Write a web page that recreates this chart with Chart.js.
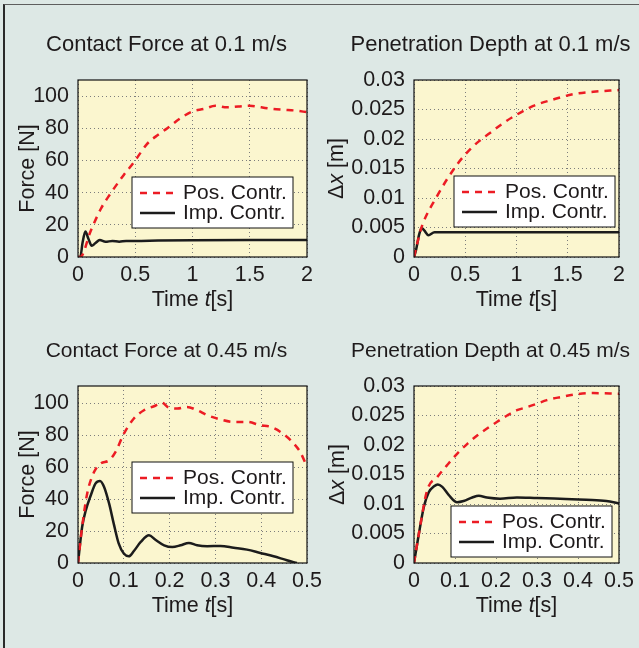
<!DOCTYPE html>
<html>
<head>
<meta charset="utf-8">
<script src="https://cdn.jsdelivr.net/npm/chart.js@4.4.1/dist/chart.umd.min.js"></script>
<style>
  html, body { margin: 0; padding: 0; }
  body { width: 639px; height: 648px; background: #dde8e5; position: relative; overflow: hidden; }
  #frame { position: absolute; left: 3px; top: 4px; right: 0; bottom: 0;
           border-left: 2px solid #2a2a2a; border-top: 1px solid #5e5e5e; }
  canvas { position: absolute; left: 0; top: 0; }
</style>
</head>
<body>
<div id="frame"></div>
<canvas id="c1" width="639" height="648"></canvas>
<canvas id="c2" width="639" height="648"></canvas>
<canvas id="c3" width="639" height="648"></canvas>
<canvas id="c4" width="639" height="648"></canvas>
<script>
// legend labels
var seriesNames = ["Pos. Contr.", "Imp. Contr."];

// contact force at 0.1 m/s
var tForce1Pos = [0, 0.02, 0.11, 0.2, 0.28, 0.4, 0.49, 0.6, 0.7, 0.78, 0.89, 1.0, 1.1, 1.2, 1.3, 1.4, 1.5, 1.6, 1.7, 1.8, 1.9, 2.0];
var force1Pos  = [0, 0, 16, 30, 39, 51, 59, 70, 76, 80, 86, 90.5, 92, 94, 93, 93.5, 94, 93, 92, 91.5, 91, 90];
var tForce1Imp = [0, 0.02, 0.04, 0.065, 0.09, 0.12, 0.15, 0.19, 0.24, 0.3, 0.36, 0.42, 0.5, 0.7, 1.0, 1.5, 2.0];
var force1Imp  = [0, 0, 9, 15.8, 11.5, 7, 8.5, 10.5, 9.4, 10, 9.5, 10, 10, 10.2, 10.4, 10.5, 10.5];

// penetration depth at 0.1 m/s
var tDepth1Pos = [0, 0.03, 0.075, 0.221, 0.384, 0.481, 0.611, 0.741, 0.871, 1.0, 1.164, 1.359, 1.554, 1.75, 2.0];
var depth1Pos  = [0, 0.0022, 0.0051, 0.0102, 0.0148, 0.017, 0.0193, 0.021, 0.0227, 0.0241, 0.0256, 0.0267, 0.0276, 0.028, 0.0283];
var tDepth1Imp = [0, 0.02, 0.05, 0.075, 0.1, 0.14, 0.2, 0.3, 0.5, 1.0, 1.5, 2.0];
var depth1Imp  = [0, 0.0012, 0.0038, 0.0049, 0.0045, 0.0037, 0.0042, 0.0042, 0.0042, 0.0042, 0.0042, 0.0042];

// contact force at 0.45 m/s
var tForce2Pos = [0, 0.009, 0.02, 0.035, 0.049, 0.068, 0.082, 0.1, 0.122, 0.144, 0.166, 0.184, 0.198, 0.217, 0.238, 0.26, 0.282, 0.311, 0.34, 0.369, 0.398, 0.42, 0.442, 0.464, 0.485, 0.5];
var force2Pos  = [0, 22.6, 43.5, 57, 62.3, 64.4, 69.7, 81, 90.6, 95.8, 98.3, 100.4, 97.5, 96.9, 97.9, 95.8, 92.7, 90, 88.5, 88.5, 86.4, 85.4, 82.2, 77, 69.7, 60.3];
var tForce2Imp = [0, 0.009, 0.017, 0.028, 0.038, 0.048, 0.057, 0.068, 0.078, 0.089, 0.1, 0.111, 0.122, 0.137, 0.155, 0.169, 0.188, 0.206, 0.224, 0.242, 0.26, 0.282, 0.311, 0.34, 0.369, 0.398, 0.427, 0.456, 0.478];
var force2Imp  = [0, 22.6, 33, 42.5, 49.8, 51.5, 47.7, 37.2, 24.7, 12.1, 5.9, 4.2, 7.5, 13.2, 17.4, 14.6, 11.1, 10, 11.1, 12.6, 11.1, 10.5, 10.7, 9.6, 8.4, 6.3, 4.2, 1.7, 0];

// penetration depth at 0.45 m/s
var tDepth2Pos = [0, 0.012, 0.032, 0.057, 0.081, 0.105, 0.13, 0.154, 0.178, 0.202, 0.227, 0.251, 0.275, 0.3, 0.324, 0.356, 0.396, 0.437, 0.5];
var depth2Pos  = [0, 0.005, 0.0123, 0.0146, 0.0166, 0.0185, 0.0202, 0.0216, 0.0228, 0.0239, 0.025, 0.0259, 0.0264, 0.027, 0.0276, 0.0281, 0.0286, 0.0288, 0.0287];
var tDepth2Imp = [0, 0.012, 0.024, 0.036, 0.049, 0.058, 0.069, 0.085, 0.105, 0.121, 0.142, 0.158, 0.178, 0.21, 0.251, 0.3, 0.356, 0.42, 0.469, 0.5];
var depth2Imp  = [0, 0.005, 0.0095, 0.012, 0.013, 0.0133, 0.0129, 0.0115, 0.0103, 0.0105, 0.0111, 0.0114, 0.0111, 0.0109, 0.0111, 0.011, 0.0109, 0.0107, 0.0105, 0.0101];

var FONT = "'Liberation Sans', Arial, sans-serif";
var TEXT = '#1e1a1b';

function pts(t, v) {
  return t.map(function (x, i) { return { x: x, y: v[i] }; });
}

function richText(ctx, parts, cx, cy, size, vertical) {
  ctx.save();
  ctx.translate(cx, cy);
  if (vertical) ctx.rotate(-Math.PI / 2);
  ctx.textBaseline = 'middle';
  ctx.textAlign = 'left';
  var w = 0;
  parts.forEach(function (p) {
    ctx.font = (p.it ? 'italic ' : '') + size + 'px ' + FONT;
    w += ctx.measureText(p.s).width;
  });
  var x = -w / 2;
  parts.forEach(function (p) {
    ctx.font = (p.it ? 'italic ' : '') + size + 'px ' + FONT;
    ctx.fillText(p.s, x, 0);
    x += ctx.measureText(p.s).width;
  });
  ctx.restore();
}

// plot background, frame, titles and the boxed legend inside the plot
var decor = {
  id: 'decor',
  beforeDraw: function (chart, args, o) {
    var a = chart.chartArea, ctx = chart.ctx;
    ctx.save();
    ctx.fillStyle = '#fbf6cf';
    ctx.fillRect(a.left, a.top, a.right - a.left, a.bottom - a.top);
    ctx.restore();
  },
  afterDraw: function (chart, args, o) {
    var a = chart.chartArea, ctx = chart.ctx;
    ctx.save();
    ctx.strokeStyle = '#111';
    ctx.lineWidth = 1.2;
    ctx.strokeRect(a.left, a.top, a.right - a.left, a.bottom - a.top);

    ctx.fillStyle = TEXT;
    richText(ctx, [{ s: o.title }], (a.left + a.right) / 2 - 26, a.top - 35, o.titleSize, false);
    richText(ctx, [{ s: 'Time ' }, { s: 't', it: true }, { s: '[s]' }], (a.left + a.right) / 2, a.bottom + 43, 21.5, false);
    richText(ctx, o.yTitle, a.left - o.yGap, (a.top + a.bottom) / 2, 21.5, true);

    var w = 161, h = 51;
    var x0 = a.right - o.legRight - w, y0 = a.bottom - o.legBottom - h;
    ctx.fillStyle = '#fff';
    ctx.fillRect(x0, y0, w, h);
    ctx.strokeStyle = '#111';
    ctx.lineWidth = 1;
    ctx.strokeRect(x0, y0, w, h);
    chart.data.datasets.forEach(function (ds, i) {
      var cy = y0 + 16 + i * 20;
      ctx.strokeStyle = ds.borderColor;
      ctx.lineWidth = ds.borderWidth;
      ctx.setLineDash(ds.borderDash || []);
      ctx.beginPath();
      ctx.moveTo(x0 + 8, cy);
      ctx.lineTo(x0 + 43, cy);
      ctx.stroke();
      ctx.setLineDash([]);
      ctx.fillStyle = TEXT;
      ctx.font = '21px ' + FONT;
      ctx.textBaseline = 'middle';
      ctx.fillText(ds.label, x0 + 51, cy);
    });
    ctx.restore();
  }
};

function fmt(v) { return String(+v.toFixed(3)); }

function makeChart(id, box, posData, impData, xMax, xStep, yMax, yStep, deco) {
  var yW = 75, xH = 45;
  return new Chart(document.getElementById(id), {
    type: 'line',
    data: {
      datasets: [
        { label: seriesNames[0], data: posData, borderColor: '#ec1c24', borderWidth: 2.5,
          borderDash: [7, 6], pointRadius: 0, cubicInterpolationMode: 'monotone', fill: false },
        { label: seriesNames[1], data: impData, borderColor: '#1c1c1c', borderWidth: 2.5,
          pointRadius: 0, cubicInterpolationMode: 'monotone', fill: false }
      ]
    },
    options: {
      responsive: false,
      animation: false,
      events: [],
      layout: { padding: { left: box[0] - yW, top: box[1], right: 639 - box[2], bottom: 648 - box[3] - xH } },
      plugins: { legend: { display: false }, title: { display: false }, tooltip: { enabled: false }, decor: deco },
      scales: {
        x: {
          type: 'linear', min: 0, max: xMax,
          afterFit: function (s) { s.height = xH; s.paddingLeft = 0; s.paddingRight = 0; },
          ticks: { stepSize: xStep, callback: fmt, font: { family: FONT, size: 21.5 }, color: TEXT,
                   padding: 5, maxRotation: 0, autoSkip: false, includeBounds: false },
          grid: { color: '#7d7d7d', lineWidth: 1, drawTicks: false },
          border: { display: false, dash: [1, 3] }
        },
        y: {
          min: 0, max: yMax,
          afterFit: function (s) { s.width = yW; s.paddingTop = 0; s.paddingBottom = 0; },
          ticks: { stepSize: yStep, callback: fmt, font: { family: FONT, size: 21.5 }, color: TEXT,
                   padding: 9, autoSkip: false, includeBounds: false },
          grid: { color: '#7d7d7d', lineWidth: 1, drawTicks: false },
          border: { display: false, dash: [1, 3] }
        }
      }
    },
    plugins: [decor]
  });
}

var forceTitle = [{ s: 'Force [N]' }];
var depthTitle = [{ s: '\u0394' }, { s: 'x', it: true }, { s: ' [m]' }];

makeChart('c1', [78, 80, 307, 257], pts(tForce1Pos, force1Pos), pts(tForce1Imp, force1Imp), 2, 0.5, 110, 20,
  { title: 'Contact Force at 0.1 m/s', titleSize: 22, yTitle: forceTitle, yGap: 50, legRight: 14, legBottom: 29 });
makeChart('c2', [414, 80, 619, 257], pts(tDepth1Pos, depth1Pos), pts(tDepth1Imp, depth1Imp), 2, 0.5, 0.03, 0.005,
  { title: 'Penetration Depth at 0.1 m/s', titleSize: 22, yTitle: depthTitle, yGap: 77, legRight: 4, legBottom: 30 });
makeChart('c3', [78, 386, 307, 563], pts(tForce2Pos, force2Pos), pts(tForce2Imp, force2Imp), 0.5, 0.1, 111, 20,
  { title: 'Contact Force at 0.45 m/s', titleSize: 21, yTitle: forceTitle, yGap: 50, legRight: 14, legBottom: 50 });
makeChart('c4', [414, 386, 619, 563], pts(tDepth2Pos, depth2Pos), pts(tDepth2Imp, depth2Imp), 0.5, 0.1, 0.03, 0.005,
  { title: 'Penetration Depth at 0.45 m/s', titleSize: 21, yTitle: depthTitle, yGap: 76, legRight: 7, legBottom: 6 });
</script>
</body>
</html>
